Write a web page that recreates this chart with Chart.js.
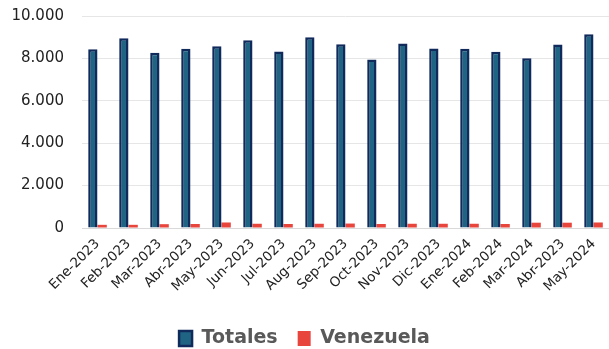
<!DOCTYPE html>
<html>
<head>
<meta charset="utf-8">
<script src="https://cdn.jsdelivr.net/npm/chart.js@4/dist/chart.umd.min.js"></script>
<style>
  html, body { margin: 0; padding: 0; background: #fff; }
  #wrap { width: 609px; height: 349px; }
</style>
</head>
<body>
<div id="wrap"><canvas id="myChart"></canvas></div>
<script>
const months = ["Ene-2023", "Feb-2023", "Mar-2023", "Abr-2023", "May-2023", "Jun-2023",
  "Jul-2023", "Aug-2023", "Sep-2023", "Oct-2023", "Nov-2023", "Dic-2023",
  "Ene-2024", "Feb-2024", "Mar-2024", "Abr-2023", "May-2024"];
const totales = [8430, 8950, 8270, 8460, 8570, 8860, 8330, 9000, 8670, 7950,
  8700, 8470, 8460, 8310, 8010, 8650, 9140];
const venezuela = [150, 150, 180, 190, 260, 200, 190, 200, 210, 190,
  200, 200, 200, 190, 250, 250, 260];

const fmt = v => String(v).replace(/\B(?=(\d{3})+(?!\d))/g, ".");

new Chart(document.getElementById("myChart"), {
  type: "bar",
  data: {
    labels: months,
    datasets: [
      {
        label: "Totales",
        data: totales,
        backgroundColor: "#1f6483",
        borderColor: "#102a5c",
        borderWidth: 2.5,
      },
      {
        label: "Venezuela",
        data: venezuela,
        backgroundColor: "#e8453c",
        borderWidth: 0,
      },
    ],
  },
  options: {
    responsive: true,
    maintainAspectRatio: false,
    animation: false,
    categoryPercentage: 0.6,
    barPercentage: 1,
    layout: { padding: { top: 16, right: 0, left: 0, bottom: -9 } },
    plugins: {
      tooltip: { enabled: false },
      legend: {
        position: "bottom",
        labels: {
          color: "#595959",
          font: { family: "DejaVu Sans", size: 19, weight: "bold" },
          boxWidth: 13,
          boxHeight: 15,
          padding: 20,
        },
      },
    },
    scales: {
      x: {
        afterFit: s => { s.height = 81; },
        grid: { display: false },
        border: { color: "#d9d9d9" },
        ticks: {
          color: "#222",
          font: { family: "DejaVu Sans", size: 13.5 },
          minRotation: 45,
          maxRotation: 45,
          padding: 0,
        },
      },
      y: {
        min: 0,
        max: 10000,
        afterFit: s => { s.width = 82; s.paddingTop = 0; s.paddingBottom = 0; },
        grid: { color: "#e6e6e6", drawTicks: false },
        border: { display: false },
        ticks: {
          stepSize: 2000,
          color: "#222",
          padding: 18,
          font: { family: "DejaVu Sans", size: 15 },
          callback: v => fmt(v),
        },
      },
    },
  },
});
</script>
</body>
</html>
